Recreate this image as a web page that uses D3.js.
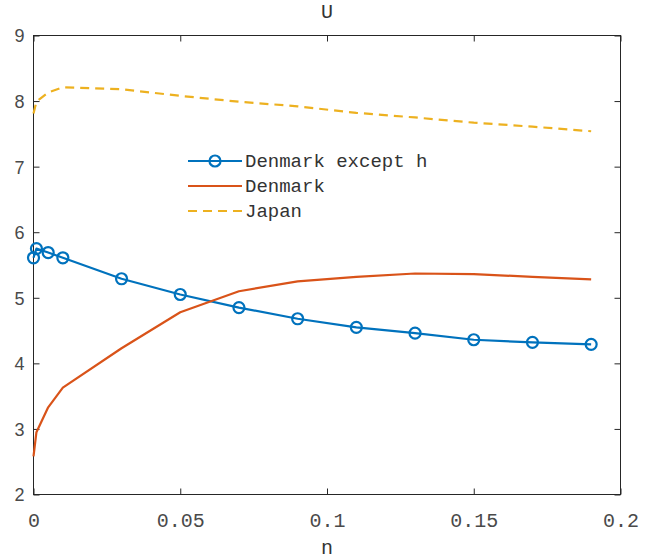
<!DOCTYPE html>
<html>
<head>
<meta charset="utf-8">
<script src="https://cdn.jsdelivr.net/npm/d3@7"></script>
<style>
  body { margin: 0; background: #fff; }
  .mono { font-family: "Courier New", "Liberation Mono", monospace; }
  .sans { font-family: "Liberation Sans", Arial, sans-serif; }
</style>
</head>
<body>
<div id="plot"></div>
<script>
// values
const n_vals = [0, 0.001, 0.005, 0.01, 0.03, 0.05, 0.07, 0.09, 0.11, 0.13, 0.15, 0.17, 0.19];
const denmark_except_h = [5.61, 5.75, 5.69, 5.61, 5.29, 5.05, 4.85, 4.68, 4.55, 4.46, 4.36, 4.32, 4.29];
const denmark = [2.58, 2.95, 3.33, 3.63, 4.23, 4.78, 5.10, 5.25, 5.32, 5.37, 5.36, 5.32, 5.28];
const japan = [7.81, 7.99, 8.13, 8.21, 8.18, 8.08, 7.99, 7.92, 7.82, 7.75, 7.67, 7.61, 7.54];
const x_ticks = [0, 0.05, 0.1, 0.15, 0.2];
const y_ticks = [2, 3, 4, 5, 6, 7, 8, 9];
const series_names = ["Denmark except h", "Denmark", "Japan"];

const W = 646, H = 560;
const m_left = 33.5, m_right = 620.5, m_top = 35.5, m_bottom = 494.5;
const axis_color = "#262626";
const text_color = "#4a4a4a";

const svg = d3.select("#plot").append("svg")
    .attr("width", W).attr("height", H);

const x = d3.scaleLinear().domain([0, 0.2]).range([m_left, m_right]);
const y = d3.scaleLinear().domain([2, 9]).range([m_bottom, m_top]);

// box
svg.append("rect")
    .attr("x", m_left).attr("y", m_top)
    .attr("width", m_right - m_left).attr("height", m_bottom - m_top)
    .attr("fill", "none").attr("stroke", axis_color).attr("stroke-width", 1);

// ticks, inside, mirrored on top and right
const tick_len = 6;
const bottomAxis = d3.axisBottom(x).tickValues(x_ticks).tickSize(-tick_len).tickFormat(d3.format("~g"));
const topAxis = d3.axisTop(x).tickValues(x_ticks).tickSize(-tick_len).tickFormat("");
const leftAxis = d3.axisLeft(y).tickValues(y_ticks).tickSize(-tick_len).tickFormat(d3.format("d"));
const rightAxis = d3.axisRight(y).tickValues(y_ticks).tickSize(-tick_len).tickFormat("");

const gb = svg.append("g").attr("transform", `translate(0,${m_bottom})`).call(bottomAxis);
const gt = svg.append("g").attr("transform", `translate(0,${m_top})`).call(topAxis);
const gl = svg.append("g").attr("transform", `translate(${m_left},0)`).call(leftAxis);
const gr = svg.append("g").attr("transform", `translate(${m_right},0)`).call(rightAxis);

[gb, gt, gl, gr].forEach(g => {
    g.select(".domain").remove();
    g.selectAll(".tick line").attr("stroke", axis_color);
});

gb.selectAll(".tick text")
    .attr("class", "mono")
    .attr("font-size", 20)
    .attr("fill", text_color)
    .attr("dy", 0)
    .attr("y", 32);

gl.selectAll(".tick text")
    .attr("class", "sans")
    .attr("font-size", 18)
    .attr("fill", text_color)
    .attr("x", -9)
    .attr("dy", "0.36em");

// title and label
svg.append("text").attr("class", "mono")
    .attr("x", (m_left + m_right) / 2).attr("y", 18)
    .attr("text-anchor", "middle").attr("font-size", 20).attr("fill", "#333")
    .text("U");

svg.append("text").attr("class", "mono")
    .attr("x", (m_left + m_right) / 2).attr("y", 554)
    .attr("text-anchor", "middle").attr("font-size", 20).attr("fill", "#333")
    .text("n");

const line = d3.line().x(d => x(d[0])).y(d => y(d[1]));
const plot = svg.append("g");

const colors = ["#0072BD", "#D95319", "#EDB120"];
const all_series = [denmark_except_h, denmark, japan];

all_series.forEach((vals, i) => {
    plot.append("path")
        .datum(n_vals.map((n, j) => [n, vals[j]]))
        .attr("d", line)
        .attr("fill", "none")
        .attr("stroke", colors[i])
        .attr("stroke-width", 2.2)
        .attr("stroke-linejoin", "round")
        .attr("stroke-dasharray", i === 2 ? "9,6" : null);
});

plot.selectAll("circle.mk")
    .data(n_vals.map((n, j) => [n, denmark_except_h[j]]))
    .join("circle")
    .attr("class", "mk")
    .attr("cx", d => x(d[0])).attr("cy", d => y(d[1]))
    .attr("r", 5.5)
    .attr("fill", "none")
    .attr("stroke", colors[0])
    .attr("stroke-width", 2.2);

// legend
const leg = svg.append("g").attr("transform", "translate(188,161)");
series_names.forEach((name, i) => {
    const row = leg.append("g").attr("transform", `translate(0,${i * 25})`);
    row.append("line")
        .attr("x1", 0).attr("x2", 54).attr("y1", 0).attr("y2", 0)
        .attr("stroke", colors[i]).attr("stroke-width", 2.2)
        .attr("stroke-dasharray", i === 2 ? "9,6" : null);
    if (i === 0) {
        row.append("circle").attr("cx", 27).attr("cy", 0).attr("r", 5.5)
            .attr("fill", "none").attr("stroke", colors[0]).attr("stroke-width", 2.2);
    }
    row.append("text").attr("class", "mono")
        .attr("x", 57).attr("y", 0).attr("dy", "0.32em")
        .attr("font-size", 19).attr("fill", "#333")
        .text(name);
});
</script>
</body>
</html>
